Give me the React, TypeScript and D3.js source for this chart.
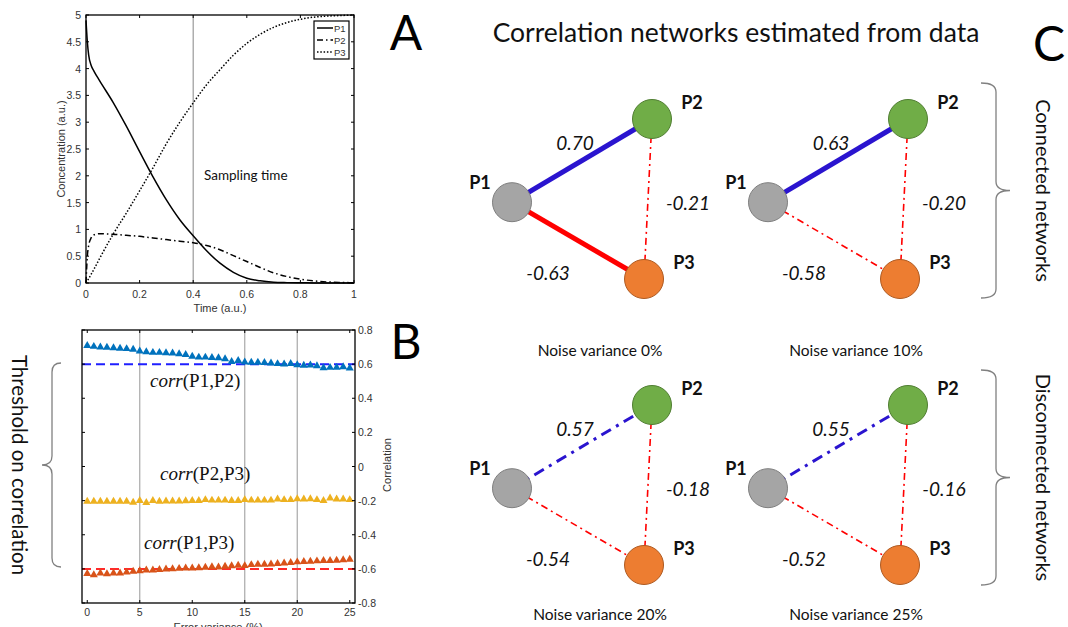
import React from "react";
import * as d3 from "d3";

// ---- Panel A: concentration time courses ----
const TIME = [0, 0.005, 0.01, 0.02, 0.03, 0.05, 0.1, 0.15, 0.2, 0.25, 0.3, 0.35, 0.4, 0.45, 0.5, 0.55, 0.6, 0.65, 0.7, 0.75, 0.8, 0.85, 0.9, 0.95, 1];
const CONC_P1 = [4.9, 4.5, 4.25, 4.05, 3.95, 3.78, 3.38, 2.93, 2.45, 1.98, 1.55, 1.18, 0.88, 0.6, 0.37, 0.2, 0.09, 0.04, 0.015, 0.007, 0.003, 0.002, 0.001, 0, 0];
const CONC_P2 = [0, 0.5, 0.7, 0.85, 0.9, 0.92, 0.91, 0.89, 0.87, 0.84, 0.81, 0.78, 0.75, 0.7, 0.62, 0.51, 0.4, 0.29, 0.19, 0.12, 0.07, 0.04, 0.02, 0.01, 0.005];
const CONC_P3 = [0, 0.04, 0.08, 0.17, 0.26, 0.45, 0.9, 1.3, 1.72, 2.15, 2.6, 3.0, 3.36, 3.7, 3.98, 4.25, 4.47, 4.64, 4.77, 4.86, 4.92, 4.96, 4.98, 4.99, 5.0];
const SAMPLING_TIME = 0.4;

// ---- Panel B: correlation vs error variance ----
const ERROR_VAR = [0, 0.625, 1.25, 1.875, 2.5, 3.125, 3.75, 4.375, 5, 5.625, 6.25, 6.875, 7.5, 8.125, 8.75, 9.375, 10, 10.625, 11.25, 11.875, 12.5, 13.125, 13.75, 14.375, 15, 15.625, 16.25, 16.875, 17.5, 18.125, 18.75, 19.375, 20, 20.625, 21.25, 21.875, 22.5, 23.125, 23.75, 24.375, 25];
const CORR_P1P2 = [0.708, 0.703, 0.7, 0.698, 0.695, 0.692, 0.69, 0.686, 0.676, 0.672, 0.668, 0.668, 0.666, 0.664, 0.66, 0.655, 0.645, 0.64, 0.64, 0.638, 0.636, 0.63, 0.615, 0.62, 0.612, 0.61, 0.61, 0.608, 0.606, 0.602, 0.6, 0.603, 0.596, 0.592, 0.594, 0.59, 0.578, 0.58, 0.58, 0.584, 0.576];
const CORR_P2P3 = [-0.205, -0.205, -0.205, -0.205, -0.205, -0.205, -0.205, -0.21, -0.2, -0.212, -0.2, -0.205, -0.203, -0.203, -0.203, -0.202, -0.2, -0.2, -0.195, -0.198, -0.198, -0.198, -0.2, -0.2, -0.195, -0.198, -0.198, -0.198, -0.198, -0.192, -0.195, -0.195, -0.19, -0.192, -0.19, -0.195, -0.2, -0.185, -0.192, -0.192, -0.195];
const CORR_P1P3 = [-0.628, -0.635, -0.625, -0.63, -0.625, -0.625, -0.62, -0.615, -0.612, -0.608, -0.608, -0.604, -0.602, -0.6, -0.598, -0.596, -0.596, -0.594, -0.592, -0.588, -0.59, -0.585, -0.583, -0.58, -0.582, -0.576, -0.574, -0.574, -0.572, -0.57, -0.566, -0.564, -0.56, -0.558, -0.556, -0.554, -0.552, -0.552, -0.55, -0.548, -0.545];
const THRESHOLDS = [0.6, -0.6];

// ---- Panel C: networks ----
const NOISE = ["0%", "10%", "20%", "25%"];
const R_P1P2 = [0.7, 0.63, 0.57, 0.55];
const R_P2P3 = [-0.21, -0.2, -0.18, -0.16];
const R_P1P3 = [-0.63, -0.58, -0.54, -0.52];

const CAL = "Lato, 'Open Sans', sans-serif";
const HELV = "'Liberation Sans', Arial, sans-serif";
const TIMES = "'Liberation Serif', 'Times New Roman', serif";
const AX = "#333";

const fmt = (v: number) => `${+v.toFixed(2)}`;

function Box({ x, y, xt, yt, tl = 3, top = true }: any) {
  const [x0, x1] = x.range();
  const [y0, y1] = y.range();
  return (
    <g stroke="#000" fill="none">
      <rect x={x0} y={y1} width={x1 - x0} height={y0 - y1} strokeWidth={1.3} />
      {xt.map((t: number) => (
        <g key={"x" + t}>
          <line x1={x(t)} x2={x(t)} y1={y0} y2={y0 - tl} />
          {top && <line x1={x(t)} x2={x(t)} y1={y1} y2={y1 + tl} />}
        </g>
      ))}
      {yt.map((t: number) => (
        <g key={"y" + t}>
          <line x1={x0} x2={x0 + tl} y1={y(t)} y2={y(t)} />
          <line x1={x1} x2={x1 - tl} y1={y(t)} y2={y(t)} />
        </g>
      ))}
    </g>
  );
}

function PanelA() {
  const x = d3.scaleLinear().domain([0, 1]).range([86, 354]);
  const y = d3.scaleLinear().domain([0, 5]).range([283, 15]);
  const xt = d3.range(0, 1.01, 0.2);
  const yt = d3.range(0, 5.01, 0.5);
  const line = (vals: number[]) =>
    d3.line<number>().x((_, i) => x(TIME[i])).y(d => y(d)).curve(d3.curveMonotoneX)(vals) || "";
  const series = [
    { name: "P1", vals: CONC_P1, dash: "none" },
    { name: "P2", vals: CONC_P2, dash: "6,3,1.5,3" },
    { name: "P3", vals: CONC_P3, dash: "1.5,1.8" },
  ];
  return (
    <g>
      <line x1={x(SAMPLING_TIME)} x2={x(SAMPLING_TIME)} y1={y(0)} y2={y(5)} stroke="#9a9a9a" strokeWidth={1.2} />
      {series.map(s => (
        <path key={s.name} d={line(s.vals)} fill="none" stroke="#000" strokeWidth={1.5} strokeDasharray={s.dash} />
      ))}
      <Box x={x} y={y} xt={xt} yt={yt} />
      <g fontFamily={HELV} fontSize={10.5} fill={AX}>
        {xt.map(t => (
          <text key={t} x={x(t)} y={298} textAnchor="middle">{fmt(t)}</text>
        ))}
        {yt.map(t => (
          <text key={t} x={81} y={y(t) + 4} textAnchor="end">{fmt(t)}</text>
        ))}
        <text x={220} y={312} textAnchor="middle" fontSize={11}>Time (a.u.)</text>
        <text transform="translate(65,149) rotate(-90)" textAnchor="middle" fontSize={11}>Concentration (a.u.)</text>
      </g>
      <text x={204} y={180} fontFamily={CAL} fontSize={13.5} fill="#111">Sampling time</text>
      <g>
        <rect x={314} y={21} width={35} height={38} fill="#fff" stroke="#000" strokeWidth={1.2} />
        {series.map((s, i) => (
          <g key={s.name}>
            <line x1={317} x2={333} y1={28 + i * 12} y2={28 + i * 12} stroke="#000" strokeWidth={1.5} strokeDasharray={s.dash} />
            <text x={334} y={31.5 + i * 12} fontFamily={HELV} fontSize={9.5} fill={AX}>{s.name}</text>
          </g>
        ))}
      </g>
    </g>
  );
}

function PanelB() {
  const x = d3.scaleLinear().domain([-0.5, 25.5]).range([82, 355]);
  const y = d3.scaleLinear().domain([-0.8, 0.8]).range([603, 330]);
  const xt = d3.range(0, 26, 5);
  const yt = d3.range(-0.8, 0.81, 0.2).map(v => +v.toFixed(1));
  const tri = d3.symbol(d3.symbolTriangle, 28)() || "";
  const series = [
    { vals: CORR_P1P2, color: "#0072BD" },
    { vals: CORR_P2P3, color: "#EDB120" },
    { vals: CORR_P1P3, color: "#D95319" },
  ];
  const grid = [5, 15, 20];
  return (
    <g>
      {grid.map(g => (
        <line key={g} x1={x(g)} x2={x(g)} y1={y(-0.8)} y2={y(0.8)} stroke="#a8a8a8" strokeWidth={1.2} />
      ))}
      {THRESHOLDS.map((t, i) => (
        <line key={t} x1={x(-0.5)} x2={x(25.5)} y1={y(t)} y2={y(t)}
          stroke={i === 0 ? "#1f1fff" : "#ff2a2a"} strokeWidth={2} strokeDasharray="9,5" />
      ))}
      {series.map((s, si) => (
        <g key={si} fill={s.color}>
          {s.vals.map((v, i) => (
            <path key={i} d={tri} transform={`translate(${x(ERROR_VAR[i])},${y(v)})`} />
          ))}
        </g>
      ))}
      <Box x={x} y={y} xt={xt} yt={yt} />
      <g fontFamily={HELV} fontSize={10.5} fill={AX}>
        {xt.map(t => (
          <text key={t} x={x(t)} y={616} textAnchor="middle">{t}</text>
        ))}
        {yt.map(t => (
          <text key={t} x={358} y={y(t) + 4}>{fmt(t)}</text>
        ))}
        <text x={218} y={631} textAnchor="middle" fontSize={11}>Error variance (%)</text>
        <text transform="translate(391,465) rotate(-90)" textAnchor="middle" fontSize={11}>Correlation</text>
      </g>
      <g fontFamily={TIMES} fontSize={19} fill="#111">
        <text x={150} y={387}><tspan fontStyle="italic">corr</tspan>(P1,P2)</text>
        <text x={160} y={480}><tspan fontStyle="italic">corr</tspan>(P2,P3)</text>
        <text x={144} y={549}><tspan fontStyle="italic">corr</tspan>(P1,P3)</text>
      </g>
      <path d="M61,363 Q52,363 52,372 L52,456 Q52,465 42,465 Q52,465 52,474 L52,558 Q52,567 61,567"
        fill="none" stroke="#808080" strokeWidth={1.3} />
      <text transform="translate(12,465) rotate(90)" textAnchor="middle" fontFamily={CAL} fontSize={20.5} fill="#111">
        Threshold on correlation
      </text>
    </g>
  );
}

// node layout in unit space, mapped into each panel
const NODE_NAMES = ["P1", "P2", "P3"];
const NODE_U = [[0, 0.52], [1, 0], [0.943, 1]];
const NODE_FILL = ["#A5A5A5", "#70AD47", "#ED7D31"];
const NODE_STROKE = ["#7f7f7f", "#507e32", "#ae5a21"];
const NODE_LABEL_OFF = [[-32, -13], [40, -10], [40, -10]];
const EDGES = [
  { a: 0, b: 1, r: R_P1P2, off: [-7, -18] },
  { a: 1, b: 2, r: R_P2P3, off: [40, 4] },
  { a: 0, b: 2, r: R_P1P3, off: [-30, 32] },
];

function Network({ idx }: { idx: number }) {
  const col = d3.scaleOrdinal<number, number>().domain([0, 1]).range([512, 768]);
  const row = d3.scaleOrdinal<number, number>().domain([0, 1]).range([202, 488]);
  const capRow = d3.scaleOrdinal<number, number>().domain([0, 1]).range([356, 620]);
  const r0 = Math.floor(idx / 2);
  const ox = col(idx % 2), oy = row(r0);
  const nx = d3.scaleLinear().domain([0, 1]).range([ox, ox + 140]);
  const ny = d3.scaleLinear().domain([0, 1]).range([oy - 83, oy + 77]);
  const pos = NODE_U.map(([u, v]) => [nx(u), ny(v)]);
  return (
    <g>
      {EDGES.map((e, i) => {
        const r = e.r[idx];
        const strong = Math.abs(r) >= 0.6;
        const color = r > 0 ? "#2a14cf" : "#ff0000";
        const w = strong ? 5 : r > 0 ? 3 : 1.6;
        const dash = strong ? "none" : r > 0 ? "11,6,3,6" : "7,4,2,4";
        return (
          <line key={i} x1={pos[e.a][0]} y1={pos[e.a][1]} x2={pos[e.b][0]} y2={pos[e.b][1]}
            stroke={color} strokeWidth={w} strokeDasharray={dash} />
        );
      })}
      {pos.map((p, i) => (
        <circle key={i} cx={p[0]} cy={p[1]} r={19.5} fill={NODE_FILL[i]} stroke={NODE_STROKE[i]} strokeWidth={1} />
      ))}
      {pos.map((p, i) => (
        <text key={i} x={p[0] + NODE_LABEL_OFF[i][0]} y={p[1] + NODE_LABEL_OFF[i][1]} textAnchor="middle"
          fontFamily={CAL} fontWeight={700} fontSize={18} fill="#111">{NODE_NAMES[i]}</text>
      ))}
      {EDGES.map((e, i) => {
        const mx = (pos[e.a][0] + pos[e.b][0]) / 2 + e.off[0];
        const my = (pos[e.a][1] + pos[e.b][1]) / 2 + e.off[1];
        return (
          <text key={i} x={mx} y={my + 7} textAnchor="middle" fontFamily={CAL} fontStyle="italic"
            fontSize={19} fill="#111">{e.r[idx].toFixed(2)}</text>
        );
      })}
      <text x={ox + 88} y={capRow(r0)} textAnchor="middle" fontFamily={CAL} fontSize={15.5} fill="#111">
        Noise variance {NOISE[idx]}
      </text>
    </g>
  );
}

function RightBrace({ y0, y1, label }: { y0: number; y1: number; label: string }) {
  const m = (y0 + y1) / 2;
  const d = `M981,${y0} Q996,${y0} 996,${y0 + 9} L996,${m - 9} Q996,${m} 1010,${m} Q996,${m} 996,${m + 9} L996,${y1 - 9} Q996,${y1} 981,${y1}`;
  return (
    <g>
      <path d={d} fill="none" stroke="#808080" strokeWidth={1.3} />
      <text transform={`translate(1036,${m}) rotate(90)`} textAnchor="middle" fontFamily={CAL} fontSize={20} fill="#111">
        {label}
      </text>
    </g>
  );
}

export default function App() {
  return (
    <svg width={1068} height={627} style={{ position: "absolute", left: 0, top: 0, background: "#fff" }}>
      <PanelA />
      <PanelB />
      <text x={736} y={42} textAnchor="middle" fontFamily={CAL} fontSize={26.5} fill="#111">
        Correlation networks estimated from data
      </text>
      {NOISE.map((_, i) => <Network key={i} idx={i} />)}
      <RightBrace y0={83} y1={298} label="Connected networks" />
      <RightBrace y0={370} y1={585} label="Disconnected networks" />
      <g fontFamily={CAL} fontSize={48} fill="#000" textAnchor="middle">
        <text x={406} y={50}>A</text>
        <text x={406} y={359}>B</text>
        <text x={1049} y={61}>C</text>
      </g>
    </svg>
  );
}
